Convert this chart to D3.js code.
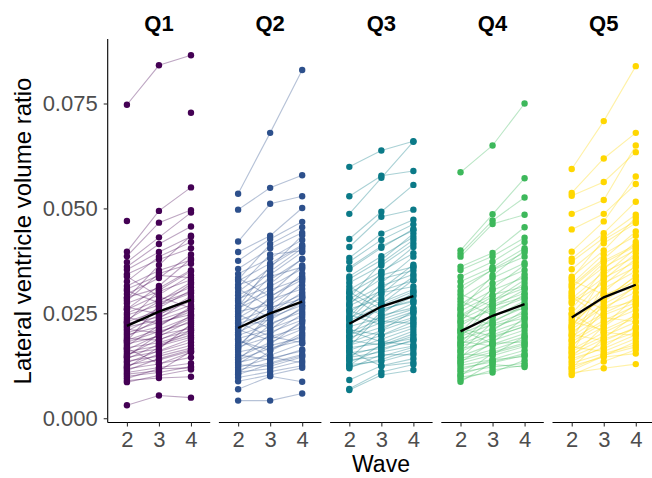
<!DOCTYPE html>
<html>
<head>
<meta charset="utf-8">
<script src="https://cdn.jsdelivr.net/npm/d3@7"></script>
<style>
  html, body { margin: 0; padding: 0; background: #fff; }
  svg { display: block; font-family: "Liberation Sans", Arial, Helvetica, sans-serif; }
</style>
</head>
<body>
<svg id="chart" width="652" height="478"></svg>
<script>
// ---------------- DATA (values in units of 1e-3 of the ratio) ----------------
const groups = ["Q1", "Q2", "Q3", "Q4", "Q5"];
const waves = [2, 3, 4];
const yTicks = [0, 0.025, 0.05, 0.075];
const colors = ["#440154", "#2D508C", "#0B7A88", "#3DB85B", "#FFD700"];

// subject trajectories: [wave2, wave3, wave4] (null = missing)
const q1 = [
  [74.7,84.1,86.5],[null,null,72.8],[47.0,null,null],[3.1,5.4,4.9],[39.7,49.4,55.0],
  [38.6,46.6,49.6],[37.2,43.1,49.0],[36.1,41.5,45.7],[35.4,39.6,43.3],[34.3,37.8,40.5],
  [33.8,29.0,26.2],[32.6,38.5,42.0],[31.5,35.2,37.7],[30.4,27.5,30.1],[29.6,33.4,39.0],
  [28.8,31.0,35.3],[28.0,34.5,36.8],[27.4,30.2,33.0],[26.5,24.8,27.9],[25.9,29.4,34.1],
  [25.1,28.1,31.2],[24.6,26.9,29.8],[24.0,22.5,25.4],[23.5,27.8,32.4],[23.0,25.6,28.3],
  [22.6,24.1,27.0],[22.1,26.3,30.5],[21.7,23.4,25.9],[21.2,20.3,23.8],[20.8,24.6,29.1],
  [20.3,22.9,24.7],[19.9,21.8,26.6],[19.4,23.7,28.7],[19.0,18.6,21.9],[18.6,21.2,24.2],
  [18.1,20.7,22.8],[17.7,19.5,23.3],[17.2,22.1,26.1],[16.8,18.0,20.4],[16.3,19.9,21.4],
  [15.9,17.2,19.3],[15.4,16.5,22.4],[15.0,18.8,20.9],[14.5,15.9,18.1],[14.1,17.6,19.8],
  [13.6,14.8,16.7],[13.2,16.1,18.9],[12.7,13.9,16.0],[12.3,15.3,17.4],[11.8,12.9,15.7],
  [11.4,14.2,16.3],[10.9,12.1,13.1],[10.5,11.3,15.9],[10.0,10.9,12.3],[9.5,11.8,12.0],
  [9.0,9.6,9.9],[8.6,10.2,11.6],[26.0,31.5,38.0],[22.9,30.5,35.0],[18.4,26.8,32.0],
  [14.7,20.0,24.5],[12.0,17.0,21.0],[28.5,36.5,43.5],[16.6,13.0,14.5],[30.8,34.0,33.5]
];
const q2 = [
  [53.5,68.0,83.0],[49.7,54.9,57.9],[42.1,51.1,52.9],[39.6,43.5,50.1],[37.5,42.7,46.8],
  [35.6,40.5,44.2],[34.4,38.1,42.5],[33.5,28.9,33.8],[32.7,36.9,41.3],[31.8,34.2,39.6],
  [30.9,26.4,28.4],[30.1,35.8,43.6],[29.3,33.0,37.9],[28.5,31.4,35.6],[27.7,24.0,26.9],
  [26.9,30.6,33.3],[26.2,29.8,36.4],[25.4,27.1,31.7],[24.7,21.4,24.2],[23.9,28.3,30.8],
  [23.2,26.2,29.5],[22.5,25.1,32.5],[21.8,23.5,27.6],[21.1,18.6,22.7],[20.4,24.4,28.8],
  [19.7,22.6,25.3],[19.0,21.1,26.5],[18.4,16.2,20.3],[17.7,20.5,23.4],[17.0,19.4,21.7],
  [16.4,22.2,26.0],[15.8,17.3,19.2],[15.1,13.9,16.4],[14.5,18.1,21.2],[13.9,16.7,18.5],
  [13.3,15.0,17.8],[12.7,12.4,14.6],[12.1,14.3,16.0],[11.5,13.2,15.2],[11.0,11.8,13.7],
  [10.4,12.9,14.9],[9.7,11.1,12.5],[8.8,10.3,12.0],[6.9,10.0,8.7],[4.2,4.2,5.9],
  [28.0,35.0,40.5],[24.3,32.0,38.0],[20.0,27.5,34.5],[16.8,25.0,30.0],[14.0,20.0,24.8],
  [22.8,19.5,18.0],[33.0,41.5,45.5],[18.8,14.6,13.2],[26.5,36.3,41.0],[12.9,17.6,23.2],
  [10.8,16.0,19.8],[31.2,39.0,39.9],[25.8,33.8,36.0],[17.3,24.0,29.0],[21.4,29.0,33.0]
];
const q3 = [
  [59.9,63.8,66.0],[52.9,57.8,58.9],[48.7,57.3,65.9],[42.7,49.2,55.6],[40.8,48.0,49.7],
  [38.2,44.0,47.3],[37.3,42.5,46.2],[35.5,40.6,45.1],[33.2,37.7,44.0],[32.3,36.4,41.6],
  [31.4,27.0,30.2],[30.6,35.0,39.3],[29.8,34.1,36.1],[29.0,24.5,26.3],[28.3,33.2,35.2],
  [27.5,31.5,34.3],[26.8,30.4,32.8],[26.0,28.4,33.7],[25.3,29.9,31.4],[24.6,22.3,24.9],
  [23.9,27.6,30.7],[23.2,26.8,29.4],[22.5,25.9,28.1],[21.8,24.0,27.4],[21.1,19.8,23.0],
  [20.5,23.6,26.0],[19.8,22.8,25.4],[19.2,21.7,24.0],[18.6,17.4,20.1],[18.0,20.9,23.6],
  [17.4,19.7,22.1],[16.8,17.9,20.8],[16.2,18.8,21.5],[15.6,16.6,18.4],[15.0,17.1,19.6],
  [14.5,15.8,17.2],[13.9,14.7,16.9],[13.4,16.2,18.7],[12.8,13.5,15.6],[12.3,14.0,16.4],
  [9.1,12.5,14.2],[6.7,10.3,11.5],[7.0,11.0,12.8],[27.0,34.6,40.8],[24.1,32.2,38.5],
  [22.0,29.5,35.9],[19.5,27.2,33.0],[17.0,24.8,30.0],[14.2,21.0,25.5],[33.8,38.6,43.2],
  [25.6,23.1,22.6],[20.8,18.2,17.5],[30.0,26.0,27.8],[16.0,12.4,13.3],[12.6,17.6,19.0],
  [28.7,37.0,42.5],[23.5,30.8,36.6],[18.3,25.3,29.0],[35.9,41.0,44.8],[11.9,15.2,15.1]
];
const q4 = [
  [58.6,65.0,75.0],[40.0,48.6,57.2],[39.2,47.1,52.6],[38.5,46.3,48.5],[36.1,39.4,45.5],
  [35.3,38.6,43.0],[33.7,37.3,42.0],[32.6,36.0,40.5],[31.4,35.3,38.5],[28.6,33.4,37.0],
  [27.9,24.6,26.2],[27.1,32.1,35.3],[26.4,30.5,33.6],[25.6,29.4,31.4],[24.9,22.1,23.9],
  [24.2,28.2,31.0],[23.5,27.1,29.8],[22.8,25.8,28.6],[22.1,26.4,30.6],[21.4,19.5,21.8],
  [20.8,24.3,27.3],[20.1,23.2,26.4],[19.5,22.4,25.1],[18.9,21.3,24.7],[18.3,17.2,19.4],
  [17.7,20.6,23.3],[17.1,19.9,22.5],[16.5,18.5,21.0],[15.9,19.1,22.0],[15.3,14.9,17.1],
  [14.8,17.6,20.2],[14.2,16.3,18.8],[13.7,15.8,17.9],[13.1,15.1,19.5],[12.6,14.0,16.2],
  [12.0,13.4,15.4],[11.5,13.9,14.7],[11.0,12.2,13.1],[10.4,12.8,12.2],[9.8,10.9,13.8],
  [9.2,11.5,12.6],[8.7,13.2,15.0],[26.0,34.0,40.0],[23.0,31.0,36.5],[20.5,28.0,33.0],
  [18.0,25.0,29.5],[16.0,22.8,27.0],[30.3,35.5,39.5],[24.5,29.0,34.3],[13.4,18.0,24.0],
  [21.0,17.8,18.2],[10.1,15.5,17.5],[17.4,24.0,28.0],[29.5,26.7,28.9],[14.5,20.9,25.8],
  [19.2,27.4,32.2]
];
const q5 = [
  [59.4,70.8,83.9],[53.7,61.9,68.0],[53.0,56.3,63.4],[48.7,52.0,65.0],[45.0,48.7,55.8],
  [39.7,46.9,57.6],[38.0,44.1,51.6],[37.3,43.0,48.5],[35.5,41.7,46.5],[33.7,40.0,47.8],
  [32.8,29.5,31.0],[32.0,39.1,43.5],[31.1,37.5,41.3],[30.2,36.0,40.1],[29.3,26.0,28.0],
  [28.5,34.8,38.5],[27.8,33.5,37.2],[27.4,32.2,36.0],[24.2,30.9,35.0],[23.6,28.4,33.8],
  [23.0,21.1,24.5],[22.4,29.3,32.5],[21.8,27.2,31.2],[21.2,26.5,30.0],[20.6,25.0,28.6],
  [20.0,18.4,21.7],[19.4,24.6,27.5],[18.8,23.3,26.8],[18.2,22.7,25.8],[17.6,21.8,27.1],
  [17.0,15.9,19.0],[16.4,20.4,24.0],[15.9,19.6,22.9],[15.3,18.9,21.3],[14.7,17.8,20.5],
  [14.2,16.6,19.9],[13.6,17.0,21.8],[13.1,15.4,17.5],[12.5,14.6,15.4],[11.9,15.0,17.0],
  [11.4,14.8,18.2],[10.8,11.9,12.9],[10.3,13.5,16.3],[26.0,35.5,42.0],[25.0,33.0,39.3],
  [22.0,30.0,36.4],[19.8,28.0,34.0],[16.8,25.8,31.5],[14.5,22.0,29.0],[12.0,19.0,24.8],
  [31.5,38.0,44.5],[28.9,24.0,23.0],[24.8,20.5,19.7],[18.5,31.8,38.0],[21.5,34.0,40.5],
  [15.6,27.8,33.0],[33.3,42.5,47.0],[29.8,37.0,41.0]
];
const subjects = [q1, q2, q3, q4, q5];

// group means per wave (units of 1e-3)
const means = [
  [22.0, 25.4, 28.2],
  [21.5, 25.0, 27.8],
  [22.5, 26.6, 29.1],
  [20.7, 24.4, 27.2],
  [24.0, 28.8, 31.8]
];

// ---------------- LAYOUT ----------------
const svg = d3.select("#chart");
const panelTop = 39, panelBottom = 422.5;
const firstLeft = 107.7, panelW = 102.5, panelStep = 111.2;
const toRatio = v => v == null ? null : v / 1000;

const y = d3.scaleLinear().domain([-0.00102, 0.09037]).range([panelBottom, panelTop]);

const tickColor = "#333333";
const labelColor = "#4D4D4D";

// y axis
const yAxis = svg.append("g")
  .attr("transform", `translate(${firstLeft},0)`)
  .call(d3.axisLeft(y).tickValues(yTicks).tickFormat(d3.format(".3f")).tickSize(4).tickSizeOuter(0).tickPadding(6));
yAxis.select(".domain").attr("stroke", "#000").attr("stroke-width", 1.1)
  .attr("d", `M0,${panelTop}V${panelBottom}`);
yAxis.selectAll(".tick line").attr("stroke", tickColor).attr("stroke-width", 1.1);
yAxis.selectAll(".tick text").attr("fill", labelColor).style("font-size", "22px")
  .attr("font-family", null);

groups.forEach((g, i) => {
  const left = firstLeft + i * panelStep;
  const x = d3.scalePoint().domain(waves).range([left, left + panelW]).padding(0.6);
  const color = colors[i];
  const pg = svg.append("g");

  // strip title
  pg.append("text")
    .attr("x", left + panelW / 2).attr("y", 31)
    .attr("text-anchor", "middle")
    .style("font-size", "22px").style("font-weight", "bold")
    .attr("fill", "#000")
    .text(g);

  const line = d3.line()
    .defined(d => d.v != null)
    .x(d => x(d.w)).y(d => y(d.v));

  const data = subjects[i].map(s => s.map((v, k) => ({ w: waves[k], v: toRatio(v) })));

  // individual trajectories
  pg.append("g").selectAll("path").data(data).join("path")
    .attr("d", line)
    .attr("fill", "none")
    .attr("stroke", color)
    .attr("stroke-opacity", 0.35)
    .attr("stroke-width", 1.1);

  // points
  const pts = data.flat().filter(d => d.v != null);
  pg.append("g").selectAll("circle").data(pts).join("circle")
    .attr("cx", d => x(d.w)).attr("cy", d => y(d.v))
    .attr("r", 3.2)
    .attr("fill", color);

  // mean line
  const meanData = means[i].map((v, k) => ({ w: waves[k], v: toRatio(v) }));
  pg.append("path")
    .attr("d", line(meanData))
    .attr("fill", "none")
    .attr("stroke", "#000")
    .attr("stroke-width", 2.3);

  // x axis
  const xa = pg.append("g")
    .attr("transform", `translate(0,${panelBottom})`)
    .call(d3.axisBottom(x).tickSize(4).tickSizeOuter(0).tickPadding(5));
  xa.select(".domain").attr("stroke", "#000").attr("stroke-width", 1.1)
    .attr("d", `M${left},0H${left + panelW}`);
  xa.selectAll(".tick line").attr("stroke", tickColor).attr("stroke-width", 1.1);
  xa.selectAll(".tick text").attr("fill", labelColor).style("font-size", "22px")
    .attr("font-family", null);
});

// axis titles
svg.append("text")
  .attr("transform", `translate(22,231) rotate(-90)`)
  .attr("text-anchor", "middle")
  .attr("dominant-baseline", "central")
  .style("font-size", "24px")
  .attr("fill", "#000")
  .text("Lateral ventricle volume ratio");

svg.append("text")
  .attr("x", 381).attr("y", 472)
  .attr("text-anchor", "middle")
  .style("font-size", "23px")
  .attr("fill", "#000")
  .text("Wave");
</script>
</body>
</html>
